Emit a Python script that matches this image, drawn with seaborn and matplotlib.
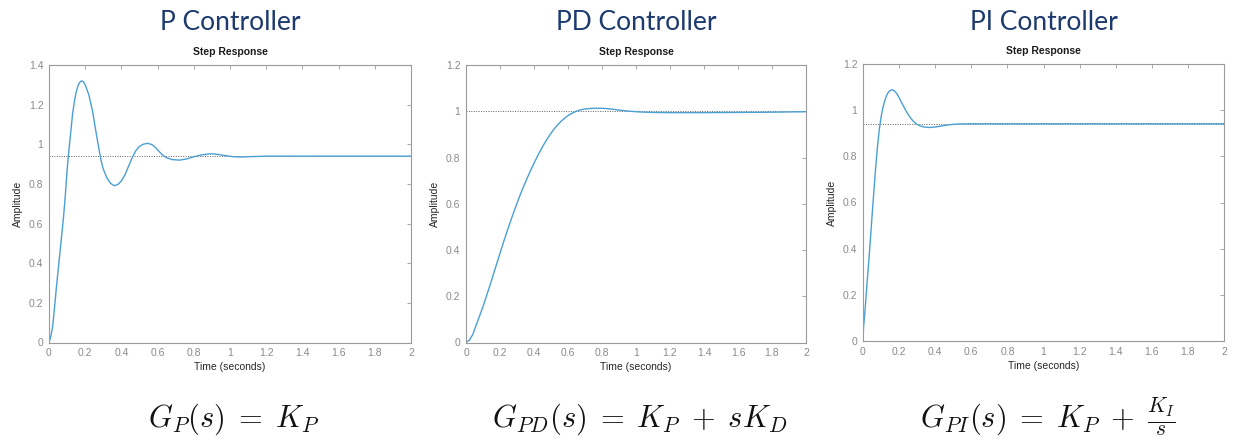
import matplotlib
matplotlib.use("Agg")
import matplotlib.pyplot as plt
import seaborn as sns

# Step responses read as (time [s], amplitude) samples
p_time = [0, 0.01, 0.02, 0.03, 0.04, 0.05, 0.06, 0.07, 0.08, 0.09, 0.10, 0.11,
          0.12, 0.13, 0.14, 0.15, 0.16, 0.17, 0.18, 0.19, 0.20, 0.22, 0.24, 0.26,
          0.28, 0.29, 0.30, 0.32, 0.34, 0.36, 0.38, 0.40,
          0.42, 0.44, 0.46, 0.48, 0.50, 0.52, 0.545, 0.57, 0.59, 0.61, 0.63, 0.65,
          0.68, 0.72, 0.76, 0.80, 0.84, 0.88, 0.90, 0.94, 0.98, 1.02, 1.06, 1.12,
          1.2, 2.0]
p_amp = [0, 0.03, 0.08, 0.17, 0.27, 0.36, 0.45, 0.54, 0.63, 0.74, 0.87, 0.97,
         1.06, 1.15, 1.215, 1.262, 1.295, 1.313, 1.32, 1.316, 1.30, 1.25, 1.17, 1.06,
         0.955, 0.91, 0.875, 0.83, 0.803, 0.791, 0.797, 0.815,
         0.847, 0.89, 0.933, 0.968, 0.99, 1.0, 1.005, 0.998, 0.982, 0.962, 0.944, 0.932,
         0.923, 0.92, 0.926, 0.937, 0.946, 0.951, 0.952, 0.948, 0.942, 0.937, 0.936, 0.938,
         0.94, 0.94]

pd_time = [0, 0.02, 0.04, 0.06, 0.08, 0.10, 0.12, 0.14, 0.16, 0.18, 0.20, 0.22,
           0.24, 0.26, 0.28, 0.30, 0.32, 0.34, 0.36, 0.38, 0.40, 0.42, 0.44, 0.46,
           0.48, 0.50, 0.52, 0.54, 0.56, 0.58, 0.60, 0.62, 0.64, 0.66, 0.68, 0.70,
           0.73, 0.76, 0.79, 0.82, 0.86, 0.90, 0.95, 1.00, 1.05, 1.10, 1.20, 1.40,
           1.60, 1.80, 2.0]
pd_amp = [0, 0.01, 0.035, 0.075, 0.115, 0.155, 0.20, 0.245, 0.292, 0.339, 0.386, 0.432,
          0.477, 0.52, 0.562, 0.602, 0.641, 0.677, 0.711, 0.744, 0.775, 0.805, 0.833, 0.859,
          0.883, 0.905, 0.925, 0.942, 0.957, 0.97, 0.981, 0.99, 0.997, 1.003, 1.007, 1.010,
          1.012, 1.013, 1.013, 1.012, 1.009, 1.005, 1.001, 0.998, 0.996, 0.995, 0.994, 0.994,
          0.995, 0.996, 0.998]

pi_time = [0, 0.003, 0.01, 0.02, 0.03, 0.04, 0.05, 0.06, 0.07, 0.08, 0.09, 0.10,
           0.11, 0.12, 0.13, 0.14, 0.15, 0.16, 0.17, 0.18, 0.19, 0.20, 0.21, 0.22,
           0.23, 0.24, 0.25, 0.26, 0.27, 0.28, 0.29, 0.30, 0.32, 0.34, 0.37, 0.40,
           0.44, 0.48, 0.52, 0.6, 2.0]
pi_amp = [0, 0.06, 0.12, 0.225, 0.325, 0.43, 0.54, 0.645, 0.75, 0.84, 0.915, 0.97,
          1.01, 1.04, 1.062, 1.077, 1.085, 1.088, 1.086, 1.079, 1.068, 1.054, 1.039, 1.024,
          1.009, 0.995, 0.982, 0.970, 0.960, 0.951, 0.944, 0.938, 0.931, 0.927, 0.925, 0.927,
          0.932, 0.937, 0.940, 0.941, 0.941]

steady_values = [0.94, 1.0, 0.94]

controller_titles = ["P Controller", "PD Controller", "PI Controller"]
transfer_functions = [r"$G_{P}(s)\;=\;K_{P}$",
                      r"$G_{PD}(s)\;=\;K_{P}\;+\;sK_{D}$",
                      r"$G_{PI}(s)\;=\;K_{P}\;+\;\frac{K_{I}}{s}$"]

x_ticks = [0, 0.2, 0.4, 0.6, 0.8, 1.0, 1.2, 1.4, 1.6, 1.8, 2.0]
x_tick_labels = ["0", "0.2", "0.4", "0.6", "0.8", "1", "1.2", "1.4", "1.6", "1.8", "2"]
y_ticks_p = [0, 0.2, 0.4, 0.6, 0.8, 1.0, 1.2, 1.4]
y_tick_labels_p = ["0", "0.2", "0.4", "0.6", "0.8", "1", "1.2", "1.4"]
y_ticks_12 = [0, 0.2, 0.4, 0.6, 0.8, 1.0, 1.2]
y_tick_labels_12 = ["0", "0.2", "0.4", "0.6", "0.8", "1", "1.2"]

sns.set_style("white")
plt.rcParams["font.family"] = ["Liberation Sans", "DejaVu Sans"]
plt.rcParams["mathtext.fontset"] = "cm"

line_color = "#4a9fd4"
axis_gray = "#9a9a9a"
tick_text = "#8a8a8a"
label_text = "#262626"
title_navy = "#1d3a6e"

fig = plt.figure(figsize=(12.35, 4.43), dpi=100)

panels = [
    dict(rect=[49 / 1235, 100.5 / 443, 362 / 1235, 277.5 / 443],
         t=p_time, y=p_amp, ymax=1.4, yt=y_ticks_p, ytl=y_tick_labels_p),
    dict(rect=[466 / 1235, 100.5 / 443, 340 / 1235, 277.5 / 443],
         t=pd_time, y=pd_amp, ymax=1.2, yt=y_ticks_12, ytl=y_tick_labels_12),
    dict(rect=[863 / 1235, 102 / 443, 361 / 1235, 277 / 443],
         t=pi_time, y=pi_amp, ymax=1.2, yt=y_ticks_12, ytl=y_tick_labels_12),
]

for i, pnl in enumerate(panels):
    ax = fig.add_axes(pnl["rect"])
    ax.axhline(steady_values[i], color="#606060", linestyle=(0, (1, 1.5)),
               linewidth=0.7, zorder=1)
    sns.lineplot(x=pnl["t"], y=pnl["y"], ax=ax, color=line_color,
                 linewidth=1.0, zorder=2)
    ax.set_xlim(0, 2)
    ax.set_ylim(0, pnl["ymax"])
    ax.set_xticks(x_ticks)
    ax.set_xticklabels(x_tick_labels)
    ax.set_yticks(pnl["yt"])
    ax.set_yticklabels(pnl["ytl"])
    ax.tick_params(direction="in", top=True, right=True, length=3, width=0.6,
                   color=axis_gray, labelcolor=tick_text, labelsize=7.5, pad=4)
    for sp in ax.spines.values():
        sp.set_visible(True)
        sp.set_color(axis_gray)
        sp.set_linewidth(0.8)
    ax.set_xlabel("Time (seconds)", fontsize=7.5, color=label_text, labelpad=3)
    ax.set_ylabel("Amplitude", fontsize=7.5, color=label_text, labelpad=4)
    ax.set_title("Step Response", fontsize=7.5, fontweight="bold",
                 color="#1a1a1a", pad=7)

    bbox = ax.get_position()
    cx = (bbox.x0 + bbox.x1) / 2
    fig.text(cx, 1 - 23 / 443, controller_titles[i], ha="center", va="center",
             fontsize=19, fontweight="normal", color=title_navy,
             family=["Lato", "DejaVu Sans"])
    fig.text(cx + 4 / 1235, 1 - 427 / 443, transfer_functions[i], ha="center",
             va="baseline", fontsize=22, color="#111111")

fig.savefig("out.png", dpi=100, facecolor="white")
